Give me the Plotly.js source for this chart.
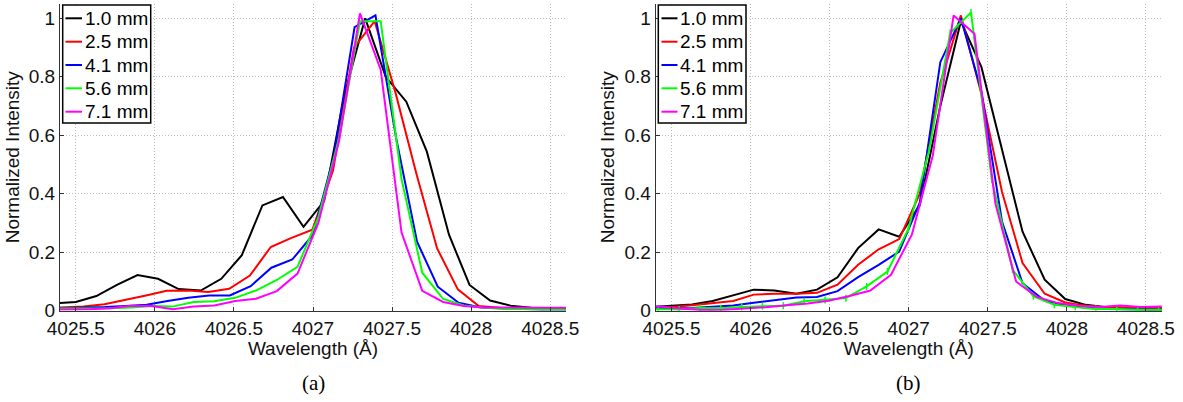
<!DOCTYPE html>
<html>
<head>
<meta charset="utf-8">
<script src="https://cdn.plot.ly/plotly-3.0.1.min.js"></script>
<style>html,body{margin:0;padding:0;background:#fff;}#chart{width:1183px;height:402px;}</style>
</head>
<body>
<div id="chart"></div>
<script>
// ---------- Data ----------
const seriesNames = ["1.0 mm", "2.5 mm", "4.1 mm", "5.6 mm", "7.1 mm"];
const seriesColors = ["#000000", "#ff0000", "#0000ff", "#00ff00", "#ff00ff"];
const panelLabels = ["(a)", "(b)"];
const xTickVals = [4025.5, 4026, 4026.5, 4027, 4027.5, 4028, 4028.5];
const xTickText = ["4025.5", "4026", "4026.5", "4027", "4027.5", "4028", "4028.5"];
const yTickVals = [0, 0.2, 0.4, 0.6, 0.8, 1];
const yTickText = ["0", "0.2", "0.4", "0.6", "0.8", "1"];

// shared wavelength grid (black curves, and red/blue of panel b)
const wlA = [4025.37, 4025.50, 4025.63, 4025.76, 4025.89, 4026.02, 4026.15, 4026.29, 4026.42, 4026.55, 4026.68, 4026.81, 4026.94, 4027.07, 4027.20, 4027.33, 4027.46, 4027.59, 4027.72, 4027.86, 4027.99, 4028.12, 4028.25, 4028.38, 4028.51, 4028.64];

// panel (a)
const wlRedA = [4025.286, 4025.418, 4025.549, 4025.681, 4025.812, 4025.944, 4026.075, 4026.207, 4026.338, 4026.470, 4026.601, 4026.733, 4026.864, 4026.996, 4027.127, 4027.259, 4027.390, 4027.522, 4027.653, 4027.785, 4027.916, 4028.048, 4028.180, 4028.311, 4028.443, 4028.574, 4028.706];
const wlBlueA = [4025.291, 4025.422, 4025.554, 4025.685, 4025.817, 4025.948, 4026.080, 4026.211, 4026.343, 4026.474, 4026.606, 4026.737, 4026.869, 4027.000, 4027.132, 4027.263, 4027.395, 4027.526, 4027.658, 4027.789, 4027.921, 4028.052, 4028.184, 4028.315, 4028.447, 4028.578, 4028.710];
const wlGMA = [4025.324, 4025.456, 4025.587, 4025.719, 4025.850, 4025.982, 4026.113, 4026.245, 4026.376, 4026.508, 4026.639, 4026.771, 4026.902, 4027.034, 4027.165, 4027.297, 4027.428, 4027.560, 4027.691, 4027.823, 4027.954, 4028.086, 4028.217, 4028.349, 4028.480, 4028.612];

const a_1p0 = [0.025, 0.030, 0.050, 0.088, 0.122, 0.109, 0.074, 0.069, 0.109, 0.190, 0.360, 0.389, 0.287, 0.375, 0.740, 1.000, 0.800, 0.715, 0.544, 0.260, 0.088, 0.035, 0.017, 0.010, 0.008, 0.008];
const a_2p5 = [0.008, 0.010, 0.014, 0.022, 0.036, 0.052, 0.068, 0.069, 0.064, 0.075, 0.120, 0.218, 0.249, 0.277, 0.480, 0.900, 0.990, 0.745, 0.470, 0.213, 0.073, 0.016, 0.010, 0.008, 0.007, 0.007, 0.007];
const a_4p1 = [0.007, 0.008, 0.010, 0.0125, 0.016, 0.020, 0.033, 0.044, 0.052, 0.052, 0.084, 0.147, 0.175, 0.260, 0.530, 0.970, 1.010, 0.590, 0.236, 0.082, 0.027, 0.012, 0.008, 0.005, 0.004, 0.004, 0.004];
const a_5p6 = [0.007, 0.007, 0.007, 0.008, 0.011, 0.016, 0.014, 0.030, 0.032, 0.044, 0.069, 0.105, 0.150, 0.320, 0.590, 0.990, 0.990, 0.450, 0.130, 0.040, 0.018, 0.010, 0.006, 0.005, 0.004, 0.004];
const a_7p1 = [0.004, 0.004, 0.005, 0.008, 0.017, 0.016, 0.005, 0.014, 0.018, 0.033, 0.041, 0.067, 0.127, 0.300, 0.580, 1.017, 0.824, 0.267, 0.068, 0.030, 0.016, 0.011, 0.010, 0.010, 0.010, 0.010];

// panel (b)
const wlGreenB = [4025.285, 4025.416, 4025.548, 4025.680, 4025.812, 4025.944, 4026.075, 4026.207, 4026.339, 4026.471, 4026.603, 4026.734, 4026.866, 4026.998, 4027.130, 4027.262, 4027.394, 4027.525, 4027.657, 4027.789, 4027.921, 4028.053, 4028.184, 4028.316, 4028.448, 4028.580, 4028.712];
const wlMagB = [4025.306, 4025.438, 4025.570, 4025.702, 4025.834, 4025.966, 4026.097, 4026.229, 4026.361, 4026.493, 4026.625, 4026.757, 4026.888, 4027.020, 4027.152, 4027.284, 4027.416, 4027.548, 4027.679, 4027.811, 4027.943, 4028.075, 4028.207, 4028.338, 4028.470, 4028.602, 4028.734];

const b_1p0 = [0.013, 0.016, 0.021, 0.033, 0.052, 0.072, 0.069, 0.058, 0.072, 0.114, 0.214, 0.278, 0.253, 0.361, 0.700, 0.990, 0.833, 0.555, 0.270, 0.106, 0.040, 0.020, 0.012, 0.010, 0.009, 0.009];
const b_2p5 = [0.012, 0.013, 0.019, 0.027, 0.033, 0.055, 0.058, 0.058, 0.061, 0.089, 0.157, 0.210, 0.245, 0.400, 0.780, 1.010, 0.740, 0.407, 0.163, 0.058, 0.028, 0.017, 0.012, 0.010, 0.010, 0.010];
const b_4p1 = [0.010, 0.008, 0.009, 0.0135, 0.018, 0.027, 0.036, 0.045, 0.047, 0.067, 0.115, 0.157, 0.202, 0.370, 0.850, 1.000, 0.750, 0.305, 0.094, 0.034, 0.019, 0.010, 0.006, 0.004, 0.003, 0.003];
const b_5p6 = [0.005, 0.005, 0.004, 0.009, 0.008, 0.013, 0.015, 0.017, 0.032, 0.037, 0.043, 0.083, 0.134, 0.280, 0.550, 0.950, 1.020, 0.450, 0.140, 0.049, 0.020, 0.013, 0.006, 0.006, 0.003, 0.003, 0.003];
const b_7p1 = [0.017, 0.0136, 0.007, 0.002, 0.003, 0.007, 0.012, 0.019, 0.025, 0.034, 0.050, 0.069, 0.123, 0.260, 0.530, 1.010, 0.947, 0.367, 0.100, 0.047, 0.026, 0.017, 0.013, 0.018, 0.013, 0.014, 0.014];

// ---------- Build traces ----------
const panelA = [[wlA, a_1p0], [wlRedA, a_2p5], [wlBlueA, a_4p1], [wlGMA, a_5p6], [wlGMA, a_7p1]];
const panelB = [[wlA, b_1p0], [wlA, b_2p5], [wlA, b_4p1], [wlGreenB, b_5p6], [wlMagB, b_7p1]];

const traces = [];
panelA.forEach((s, i) => {
  traces.push({
    x: s[0], y: s[1], name: seriesNames[i], type: 'scatter', mode: 'lines',
    line: {color: seriesColors[i], width: 2}, xaxis: 'x', yaxis: 'y', showlegend: false
  });
});
panelB.forEach((s, i) => {
  const t = {
    x: s[0], y: s[1], name: seriesNames[i], type: 'scatter', mode: 'lines',
    line: {color: seriesColors[i], width: 2}, xaxis: 'x2', yaxis: 'y2', showlegend: false
  };
  if (i === 3) {
    t.mode = 'lines+markers';
    t.marker = {symbol: 'line-ns-open', size: 5, color: seriesColors[i], line: {color: seriesColors[i], width: 1.5}};
  }
  traces.push(t);
});

const W = 1183, H = 402;
const fontFam = '"Liberation Sans", Arial, sans-serif';
const axisCommon = {
  showline: true, linecolor: '#333', linewidth: 1, mirror: false,
  ticks: 'inside', ticklen: 4, tickcolor: '#333', tickwidth: 1,
  showgrid: true, gridcolor: '#bdbdbd', gridwidth: 1, griddash: '1px,2px',
  zeroline: false, tickfont: {family: fontFam, size: 19, color: '#111'}
};
const xAx = (dom) => Object.assign({}, axisCommon, {
  domain: dom, range: [4025.4, 4028.6], tickmode: 'array', tickvals: xTickVals, ticktext: xTickText,
  title: {text: 'Wavelength (Å)', font: {family: fontFam, size: 19, color: '#111'}, standoff: 0}
});
const yAx = (anchorX) => Object.assign({}, axisCommon, {
  domain: [(H - 310.7) / H, (H - 3.7) / H], range: [0, 1.05], tickmode: 'array', tickvals: yTickVals, ticktext: yTickText,
  anchor: anchorX,
  title: {text: 'Normalized Intensity', font: {family: fontFam, size: 19, color: '#111'}, standoff: 4}
});

// ---------- Legend boxes (one per panel) ----------
const legendBoxes = [
  {x0: 62.7, x1: 150.7, lineX0: 65.5, lineX1: 82, textX: 82.5},
  {x0: 658.3, x1: 746.0, lineX0: 661.5, lineX1: 677.5, textX: 678}
];
const legendTop = 5, legendBottom = 123;
const legendRowsY = [18.3, 41.7, 65.0, 88.3, 111.7];
const px = (v) => v / W, py = (v) => 1 - v / H;

const shapes = [];
const annotations = [];
legendBoxes.forEach((b) => {
  shapes.push({type: 'rect', xref: 'paper', yref: 'paper', x0: px(b.x0), x1: px(b.x1), y0: py(legendBottom), y1: py(legendTop),
    fillcolor: '#ffffff', line: {color: '#000000', width: 1.5}, layer: 'above'});
  seriesNames.forEach((n, i) => {
    shapes.push({type: 'line', xref: 'paper', yref: 'paper', x0: px(b.lineX0), x1: px(b.lineX1), y0: py(legendRowsY[i]), y1: py(legendRowsY[i]),
      line: {color: seriesColors[i], width: 2}, layer: 'above'});
    annotations.push({text: n, xref: 'paper', yref: 'paper', showarrow: false, x: px(b.textX), y: py(legendRowsY[i]),
      xanchor: 'left', yanchor: 'middle', font: {family: fontFam, size: 19, color: '#000'}});
  });
});
panelLabels.forEach((t, i) => {
  annotations.push({text: t, xref: 'paper', yref: 'paper', showarrow: false,
    x: px(i === 0 ? 313 : 908.7), y: py(383), xanchor: 'center', yanchor: 'middle',
    font: {family: '"Liberation Serif", "DejaVu Serif", serif', size: 21, color: '#000'}});
});

const layout = {
  width: W, height: H, margin: {l: 0, r: 0, t: 0, b: 0},
  paper_bgcolor: '#ffffff', plot_bgcolor: '#ffffff',
  xaxis: Object.assign(xAx([60 / W, 566 / W]), {anchor: 'y'}),
  yaxis: yAx('x'),
  xaxis2: Object.assign(xAx([655.7 / W, 1161.7 / W]), {anchor: 'y2'}),
  yaxis2: yAx('x2'),
  shapes: shapes,
  annotations: annotations,
  showlegend: false
};

Plotly.newPlot('chart', traces, layout, {displayModeBar: false, staticPlot: true});
</script>
</body>
</html>
